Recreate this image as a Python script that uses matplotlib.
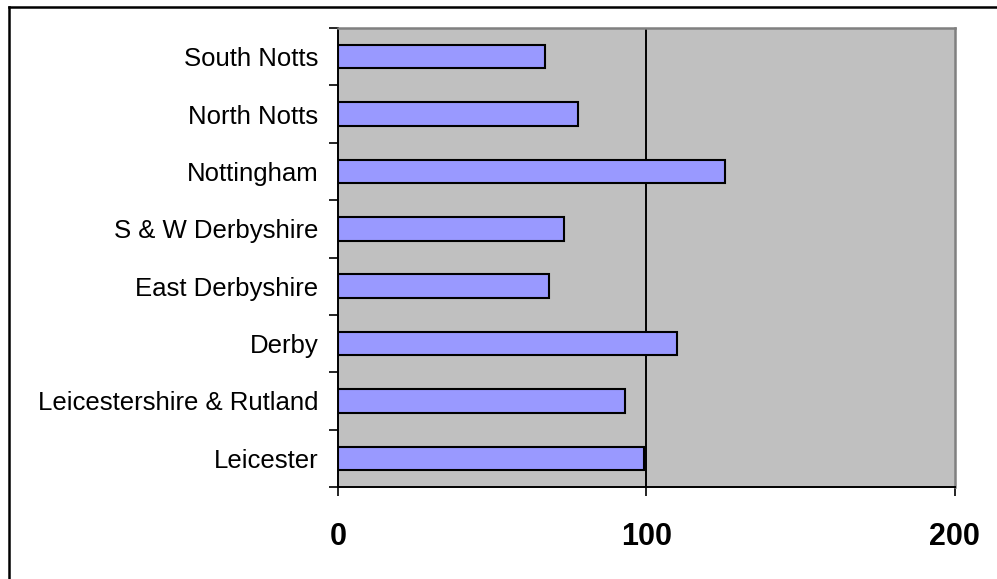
import matplotlib
matplotlib.use("Agg")
import matplotlib.pyplot as plt
from matplotlib.lines import Line2D
import numpy as np

# Data (listed bottom to top)
areas = [
    "Leicester",
    "Leicestershire & Rutland",
    "Derby",
    "East Derbyshire",
    "S & W Derbyshire",
    "Nottingham",
    "North Notts",
    "South Notts",
]
values = [99.3, 93.0, 109.9, 68.5, 73.4, 125.5, 77.8, 67.1]
x_ticks = [0, 100, 200]

plt.rcParams["font.family"] = ["Liberation Sans", "DejaVu Sans"]

W, H = 997, 579
fig = plt.figure(figsize=(W / 100, H / 100), dpi=100)
fig.patch.set_facecolor("white")

left, right, top, bottom = 338, 954.5, 28, 487
ax = fig.add_axes([left / W, 1 - bottom / H, (right - left) / W, (bottom - top) / H])
ax.set_facecolor("#C0C0C0")

y = np.arange(len(areas))
ax.barh(y, values, height=0.41, color="#9999FF", edgecolor="black",
        linewidth=1.5, zorder=3)

ax.set_xlim(0, 200)
ax.set_ylim(-0.5, len(areas) - 0.5)

# vertical gridline at 100
ax.axvline(100, color="black", linewidth=1.4, zorder=2)

# x axis
ax.set_xticks(x_ticks)
ax.set_xticklabels([str(t) for t in x_ticks], fontsize=22, fontweight="bold")
ax.tick_params(axis="x", direction="out", length=6.5, width=1.2, pad=19, colors="black")

# y axis: ticks at category boundaries, labels centred on bars
ax.set_yticks(np.arange(-0.5, len(areas), 1.0))
ax.set_yticklabels([])
ax.set_yticks(y, minor=True)
ax.set_yticklabels(areas, minor=True, fontsize=18.5)
ax.tick_params(axis="y", which="major", direction="out", length=6.5, width=1.2)
ax.tick_params(axis="y", which="minor", length=0, pad=14)

for side in ("left", "bottom"):
    ax.spines[side].set_color("black")
    ax.spines[side].set_linewidth(1.4)
for side in ("top", "right"):
    ax.spines[side].set_color("#808080")
    ax.spines[side].set_linewidth(1.8)

# outer chart border
bx0, by0 = 9 / W, 1 - 7 / H
fig.add_artist(Line2D([bx0, bx0], [by0, -0.05], color="black", linewidth=1.8,
                      transform=fig.transFigure))
fig.add_artist(Line2D([bx0, 1.05], [by0, by0], color="black", linewidth=1.8,
                      transform=fig.transFigure))

fig.savefig("out.png", dpi=100)
